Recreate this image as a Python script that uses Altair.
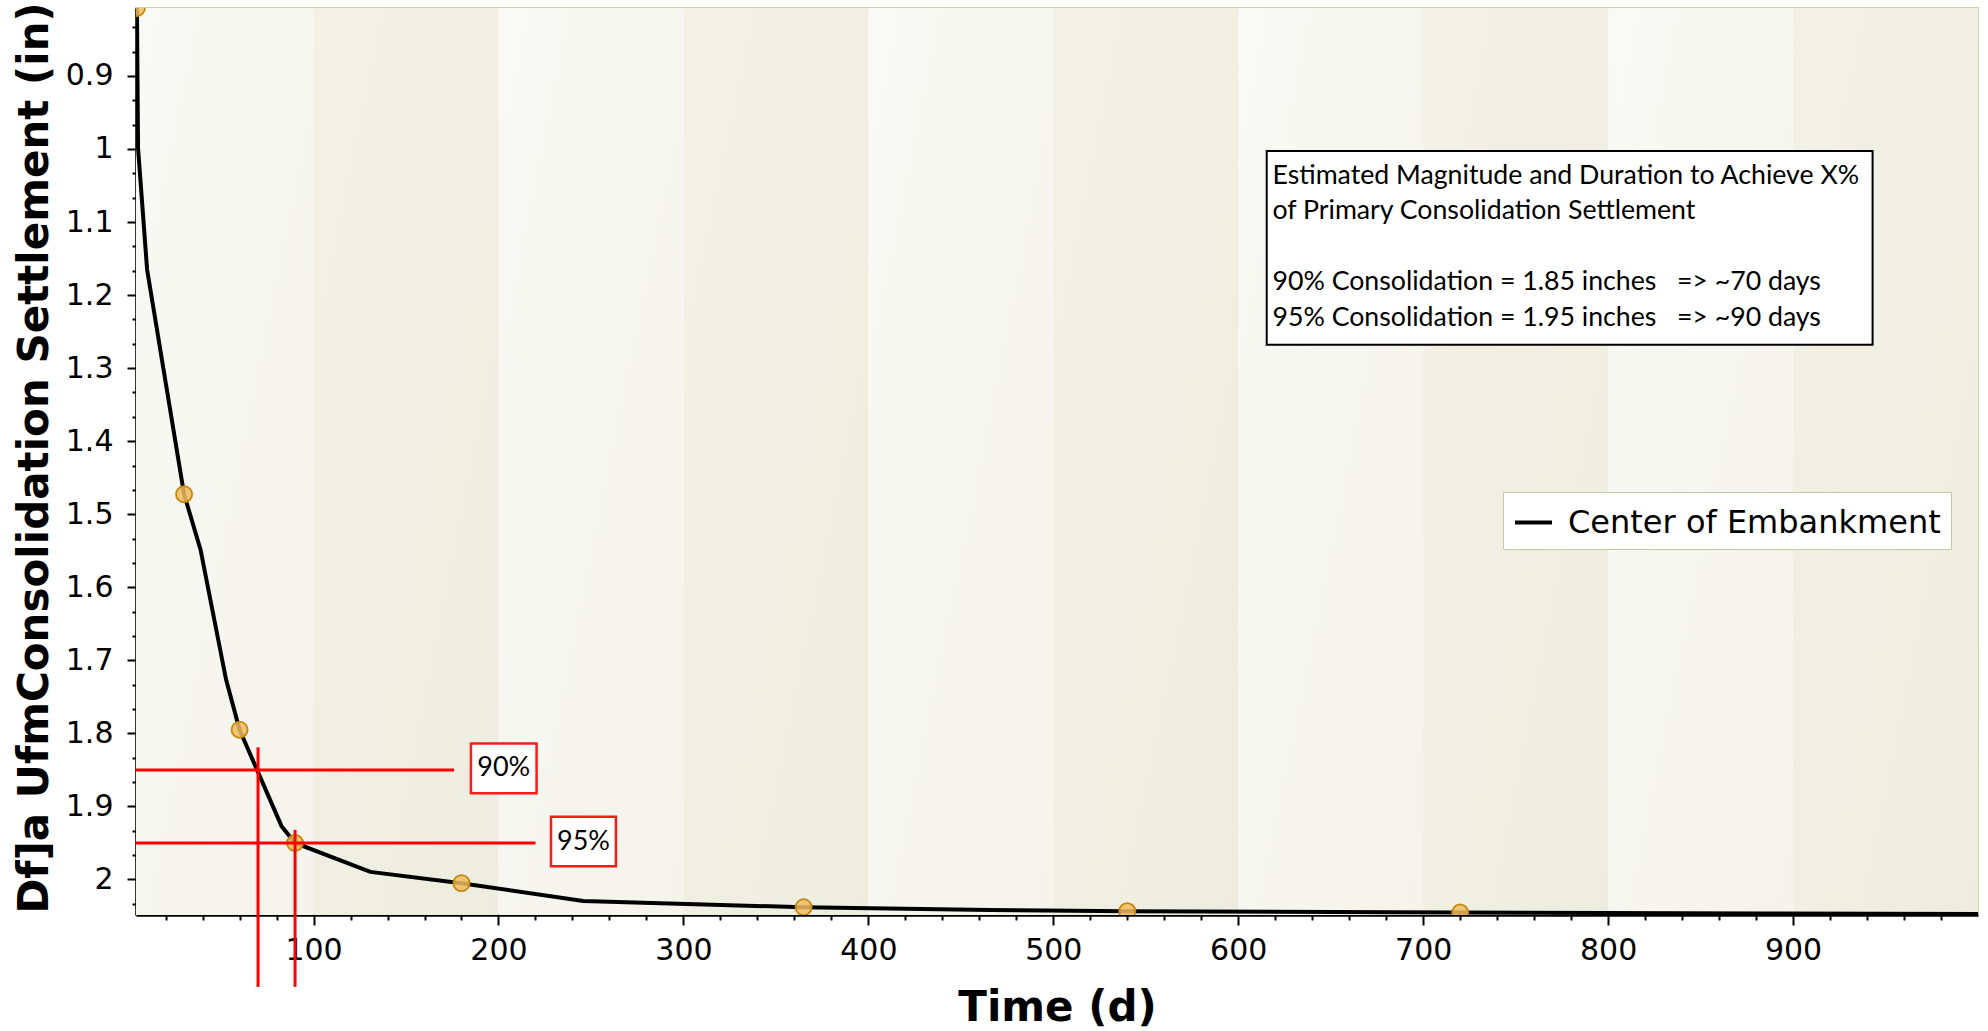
import altair as alt
import pandas as pd

# ---- data -------------------------------------------------------------
# Settlement curve at the centre of the embankment (time in days, settlement in inches)
curve_days = [4.5, 5.1, 10.0, 30.0, 38.9, 52.7, 60.0, 82.7, 90.0, 130.7, 180.0,
              245.8, 365.0, 465.7, 540.0, 720.0, 883.0, 1000.0]
curve_settlement = [0.807, 0.9985, 1.165, 1.4726, 1.5485, 1.7264, 1.795, 1.927, 1.95,
                    1.9896, 2.005, 2.0294, 2.038, 2.0416, 2.0434, 2.0452, 2.0466, 2.0472]

# Computed output times marked on the curve
marker_days = [4.5, 30, 60, 90, 180, 365, 540, 720]
marker_settlement = [0.807, 1.4726, 1.795, 1.95, 2.005, 2.038, 2.0434, 2.0452]

# Alternating background bands, 100 days wide
band_start = [0, 100, 200, 300, 400, 500, 600, 700, 800, 900]
band_tone = ["light", "dark", "light", "dark", "light", "dark", "light", "dark", "light", "dark"]

# Red guides for 90% / 95% consolidation
guide_x = [4, 4, 70, 90]
guide_x2 = [176, 220, 70, 90]
guide_y = [1.85, 1.95, 1.819, 1.932]
guide_y2 = [1.85, 1.95, 2.147, 2.147]

# Percentage tags next to the guides
tag_text = ["90%", "95%"]
tag_x = [185.1, 228.4]
tag_x2 = [220.6, 263.5]
tag_y = [1.814, 1.914]
tag_y2 = [1.882, 1.982]

# Note box
note_x, note_x2 = 615.4, 943.0
note_y, note_y2 = 1.0026, 1.268
note_lines = [
    "Estimated Magnitude and Duration to Achieve X%",
    "of Primary Consolidation Settlement",
    "90% Consolidation = 1.85 inches\u00a0\u00a0\u00a0=> ~70 days",
    "95% Consolidation = 1.95 inches\u00a0\u00a0\u00a0=> ~90 days",
]
note_line_y = [1.0375, 1.0855, 1.1825, 1.2315]
note_text_x = 618.5

SERIES = "Center of Embankment"
X_MIN, X_MAX = 4, 1000
Y_MIN, Y_MAX = 0.807, 2.0486

x_ticks = list(range(20, 1000, 20))
y_ticks = [round(k / 30, 6) for k in range(25, 62)]

# ---- frames -----------------------------------------------------------
curve_df = pd.DataFrame({"day": curve_days, "settlement": curve_settlement, "series": SERIES})
marker_df = pd.DataFrame({"day": marker_days, "settlement": marker_settlement})
band_df = pd.DataFrame({
    "start": band_start,
    "end": [s + 100 for s in band_start],
    "tone": band_tone,
    "top": Y_MIN,
    "bottom": Y_MAX,
})
guide_df = pd.DataFrame({"x": guide_x, "x2": guide_x2, "y": guide_y, "y2": guide_y2})
tag_df = pd.DataFrame({"text": tag_text, "x": tag_x, "x2": tag_x2, "y": tag_y, "y2": tag_y2})
tag_df["xm"] = (tag_df["x"] + tag_df["x2"]) / 2
tag_df["ym"] = (tag_df["y"] + tag_df["y2"]) / 2
note_box_df = pd.DataFrame({"x": [note_x], "x2": [note_x2], "y": [note_y], "y2": [note_y2]})
note_text_df = pd.DataFrame({"text": note_lines, "y": note_line_y, "x": note_text_x})

# ---- scales & axes ----------------------------------------------------
x_scale = alt.Scale(domain=[X_MIN, X_MAX], nice=False, zero=False)
y_scale = alt.Scale(domain=[Y_MIN, Y_MAX], nice=False, zero=False, reverse=True)

common_axis = dict(
    grid=False,
    domainColor="black",
    domainWidth=2.5,
    tickColor="black",
    tickWidth=2,
    labelFont="DejaVu Sans",
    labelFontSize=30,
    labelColor="black",
    labelOverlap=False,
    labelFlush=False,
    titleFont="DejaVu Sans",
    titleFontSize=42,
    titleFontWeight="bold",
    titleColor="black",
)

x_axis = alt.Axis(
    values=x_ticks,
    format="d",
    labelExpr="datum.value % 100 === 0 ? datum.label : ''",
    tickSize={"condition": {"test": "datum.value % 100 === 0", "value": 10}, "value": 5},
    labelPadding=10,
    title="Time (d)",
    titleX=921,
    titleY=72,
    titleAlign="center",
    titleBaseline="top",
    titleAngle=0,
    **common_axis,
)

y_major = "abs(datum.value * 10 - round(datum.value * 10)) < 0.001"
y_axis = alt.Axis(
    values=y_ticks,
    labelExpr=f"{y_major} ? format(datum.value, '.1~f') : ''",
    tickSize={"condition": {"test": y_major, "value": 9}, "value": 4},
    labelPadding=14,
    title="Df]a UfmConsolidation Settlement (in)",
    titleX=-89,
    titleY=905,
    titleAngle=270,
    titleAlign="left",
    titleBaseline="alphabetic",
    **common_axis,
)


def X(field):
    return alt.X(field, type="quantitative", scale=x_scale, axis=x_axis)


def Y(field):
    return alt.Y(field, type="quantitative", scale=y_scale, axis=y_axis)


# ---- layers -----------------------------------------------------------
light_fill = alt.LinearGradient(
    gradient="linear", x1=0, x2=1, y1=0, y2=1,
    stops=[alt.GradientStop(color="#f9f9f5", offset=0),
           alt.GradientStop(color="#f4f4ec", offset=1)],
)
dark_fill = alt.LinearGradient(
    gradient="linear", x1=0, x2=1, y1=0, y2=1,
    stops=[alt.GradientStop(color="#f1f1e6", offset=0),
           alt.GradientStop(color="#ededdf", offset=1)],
)

bands_light = alt.Chart(band_df).transform_filter("datum.tone === 'light'").mark_rect(
    clip=True, color=light_fill, strokeWidth=0
).encode(x=X("start"), x2="end", y=Y("top"), y2="bottom")

bands_dark = alt.Chart(band_df).transform_filter("datum.tone === 'dark'").mark_rect(
    clip=True, color=dark_fill, strokeWidth=0
).encode(x=X("start"), x2="end", y=Y("top"), y2="bottom")

curve = alt.Chart(curve_df).mark_line(clip=True, strokeWidth=4).encode(
    x=X("day"),
    y=Y("settlement"),
    color=alt.Color(
        "series:N",
        scale=alt.Scale(domain=[SERIES], range=["black"]),
        legend=alt.Legend(
            title=None,
            orient="none",
            legendX=1367,
            legendY=484,
            fillColor="white",
            strokeColor="#c8c8a0",
            padding=10,
            cornerRadius=0,
            labelFont="DejaVu Sans",
            labelFontSize=32,
            labelColor="black",
            labelLimit=0,
            labelOffset=14,
            symbolType="stroke",
            symbolStrokeWidth=4,
            symbolSize=1369,
        ),
    ),
)

markers = alt.Chart(marker_df).mark_point(
    clip=True, filled=True, shape="circle", size=260,
    fill="#f0bc5e", fillOpacity=0.85, stroke="#c4870f", strokeWidth=1.8,
).encode(x=X("day"), y=Y("settlement"))

guides = alt.Chart(guide_df).mark_rule(color="#ff0000", strokeWidth=3, clip=False).encode(
    x=X("x"), x2="x2", y=Y("y"), y2="y2"
)

tag_boxes = alt.Chart(tag_df).mark_rect(
    fill="white", stroke="#ff1a1a", strokeWidth=2.5, clip=False
).encode(x=X("x"), x2="x2", y=Y("y"), y2="y2")

tag_labels = alt.Chart(tag_df).mark_text(
    font="Lato", fontSize=27, color="black", align="center", baseline="middle"
).encode(x=X("xm"), y=Y("ym"), text="text:N")

note_box = alt.Chart(note_box_df).mark_rect(
    fill="white", stroke="black", strokeWidth=2
).encode(x=X("x"), x2="x2", y=Y("y"), y2="y2")

note_text = alt.Chart(note_text_df).mark_text(
    font="Lato", fontSize=26.7, color="black", align="left", baseline="middle"
).encode(x=X("x"), y=Y("y"), text="text:N")

chart = alt.layer(
    bands_light, bands_dark, curve, markers, guides, tag_boxes, tag_labels, note_box, note_text
).properties(
    width=1842,
    height=907,
    autosize=alt.AutoSizeParams(type="none"),
    padding={"left": 136, "top": 8, "right": 10, "bottom": 116},
    background="white",
).configure_view(
    stroke="#d2d2ae", strokeWidth=2
)

chart.save("out.html", embed_options={"renderer": "svg", "actions": False})
